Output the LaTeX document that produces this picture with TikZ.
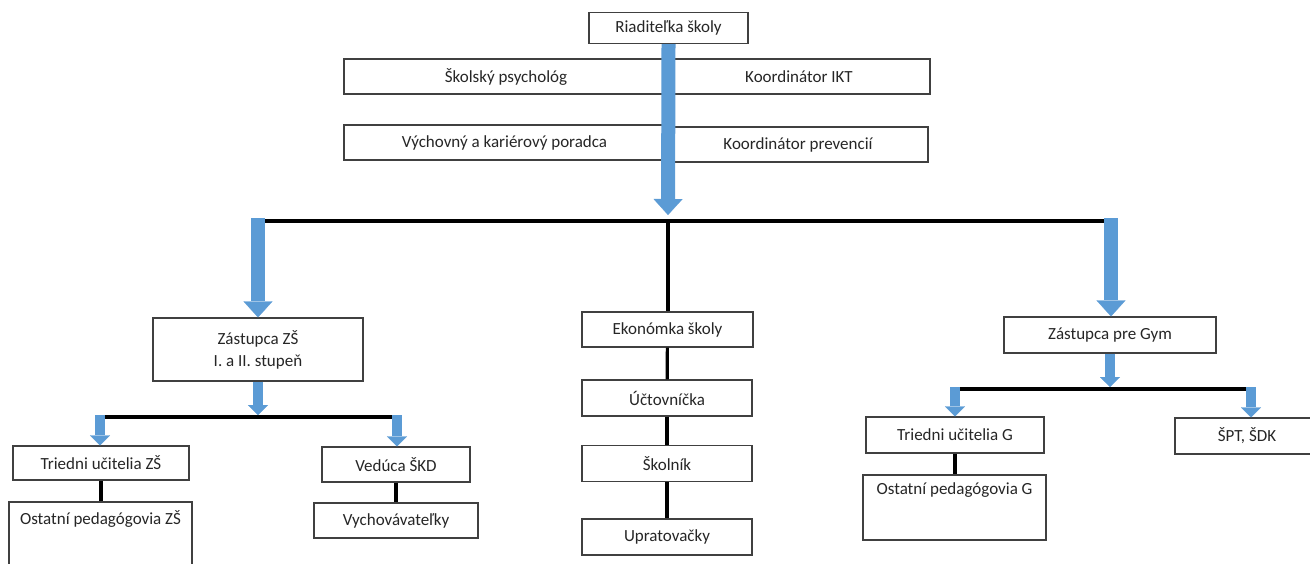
\documentclass[tikz,border=0pt]{standalone}
\usepackage{fontspec}
\setmainfont{Carlito}
\usepackage{tikz}
\usetikzlibrary{arrows.meta}
\definecolor{arrblue}{HTML}{5B9BD5}
\definecolor{boxline}{HTML}{404040}

\begin{document}
\begin{tikzpicture}[x=0.5pt,y=-0.5pt,
    font=\fontsize{8.5pt}{11pt}\selectfont,
    box/.style={draw=boxline,line width=0.6pt,fill=white,text=black!85,align=center,inner sep=0pt},
    bigarrow/.style={arrblue,line width=7pt,-{Triangle[width=14.5pt,length=8pt,line width=0.1pt]}},
    smallarrow/.style={arrblue,line width=5pt,-{Triangle[width=10pt,length=5pt,line width=0.1pt]}},
    bar/.style={line width=2pt},
    link/.style={line width=1.6pt}]
    \useasboundingbox[fill=white] (0,0) rectangle (1310,563);
    \pgfmathsetmacro{\hub}{221}
    \pgfmathsetmacro{\zsbar}{417}
    \pgfmathsetmacro{\gymbar}{389}
    % Coordinates of the bars
    \coordinate (hub) at (668,\hub);
    \coordinate (barL) at (258,\hub);
    \coordinate (barR) at (1111,\hub);
    \coordinate (zsmid) at (258,\zsbar);
    \coordinate (zsL) at (100,\zsbar);
    \coordinate (zsR) at (397,\zsbar);
    \coordinate (gymmid) at (1110,\gymbar);
    \coordinate (gymL) at (955,\gymbar);
    \coordinate (gymR) at (1251,\gymbar);

    % Top of the school
    \node[box,minimum width=79.5pt,minimum height=15.5pt] (boss) at (668.5,28) {Riaditeľka školy};
    \node[box,minimum width=162pt,minimum height=17.5pt] (psych) at (506,76.5) {Školský psychológ};
    \node[box,minimum width=131pt,minimum height=17.5pt] (ikt) at (799,76.5) {Koordinátor IKT};
    \node[box,minimum width=160.5pt,minimum height=17.5pt] (porad) at (504.5,142.5) {Výchovný a kariérový poradca};
    \node[box,minimum width=130pt,minimum height=17.5pt] (prev) at (798,144.5) {Koordinátor prevencií};

    % Left branch: ZS
    \node[box,minimum width=105pt,minimum height=31.5pt] (zszast) at (258,349.5) {Zástupca ZŠ\\I. a II. stupeň};
    \node[box,minimum width=88pt,minimum height=17pt] (tuzs) at (101,463) {Triedni učitelia ZŠ};
    \node[box,minimum width=91.5pt,minimum height=40pt,
        label={[text=black!85,anchor=center,yshift=-9pt]north:Ostatní pedagógovia ZŠ}] (ostzs) at (100.5,542) {};
    \node[box,minimum width=74pt,minimum height=17.5pt] (skd) at (396,464.5) {Vedúca ŠKD};
    \node[box,minimum width=82pt,minimum height=17.5pt] (vych) at (396,520.5) {Vychovávateľky};

    % Middle branch
    \node[box,minimum width=85.5pt,minimum height=17.5pt] (ekon) at (667.5,329.5) {Ekonómka školy};
    \node[box,minimum width=85pt,minimum height=18pt] (uct) at (667,398) {Účtovníčka};
    \node[box,minimum width=85pt,minimum height=18pt] (skoln) at (667,463.5) {Školník};
    \node[box,minimum width=85pt,minimum height=18pt] (uprat) at (667,537) {Upratovačky};

    % Right branch: Gym
    \node[box,minimum width=106pt,minimum height=18pt] (gymzast) at (1110,335) {Zástupca pre Gym};
    \node[box,minimum width=89pt,minimum height=18pt] (tug) at (955,435) {Triedni učitelia G};
    \node[box,minimum width=91.5pt,minimum height=32.5pt,
        label={[text=black!85,anchor=center,yshift=-8pt]north:Ostatní pedagógovia G}] (ostg) at (954.5,507.5) {};
    \node[box,minimum width=72pt,minimum height=18pt] (spt) at (1247,436) {ŠPT, ŠDK};

    % Draw the bars
    \draw[bar] (barL) -- (barR);
    \draw[bar] (zsL) -- (zsR);
    \draw[bar] (gymL) -- (gymR);

    % Draw the black links
    \draw[link] (hub) -- (hub |- ekon.north);
    \draw[link] (ekon) -- (uct);
    \draw[link] (uct) -- (skoln);
    \draw[link] (skoln) -- (uprat);
    \draw[link] (tuzs.south) -- (tuzs.south |- ostzs.north);
    \draw[link] (skd.south) -- (skd.south |- vych.north);
    \draw[link] (tug.south) -- (tug.south |- ostg.north);

    % Draw the blue arrows
    \draw[bigarrow] (boss.south) -- ([yshift=3pt]hub);
    \draw[bigarrow] ([yshift=1.5pt]barL) -- (barL |- zszast.north);
    \draw[bigarrow] ([yshift=1.5pt]barR) -- (barR |- gymzast.north);
    \draw[smallarrow] (zszast.south) -- ([yshift=1pt]zsmid);
    \draw[smallarrow] ([yshift=1pt]zsL) -- (zsL |- tuzs.north);
    \draw[smallarrow] ([yshift=1pt]zsR) -- (zsR |- skd.north);
    \draw[smallarrow] (gymzast.south) -- ([yshift=1pt]gymmid);
    \draw[smallarrow] ([yshift=1pt]gymL) -- (gymL |- tug.north);
    \draw[smallarrow] ([yshift=1pt]gymR) -- (gymR |- spt.north);
\end{tikzpicture}
\end{document}
